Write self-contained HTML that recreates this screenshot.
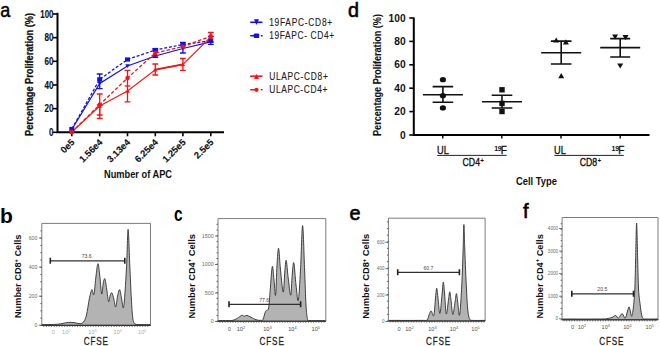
<!DOCTYPE html>
<html><head><meta charset="utf-8"><style>
html,body{margin:0;padding:0;background:#fff;width:660px;height:346px;overflow:hidden}
svg{display:block}
text{font-family:"Liberation Sans",sans-serif}
</style></head><body>
<svg width="660" height="346" viewBox="0 0 660 346"><path d="M57.5,12.8 V132.3 H224" fill="none" stroke="#000" stroke-width="2"/>
<line x1="53.0" y1="132.30" x2="57.5" y2="132.30" stroke="#000" stroke-width="1.6"/>
<text x="53.5" y="136.10" font-family="Liberation Sans, sans-serif" font-weight="bold" font-size="10.6" text-anchor="end" textLength="4.5" lengthAdjust="spacingAndGlyphs" stroke="#111" stroke-width="0.15" fill="#111">0</text>
<line x1="53.0" y1="108.64" x2="57.5" y2="108.64" stroke="#000" stroke-width="1.6"/>
<text x="53.5" y="112.44" font-family="Liberation Sans, sans-serif" font-weight="bold" font-size="10.6" text-anchor="end" textLength="9.0" lengthAdjust="spacingAndGlyphs" stroke="#111" stroke-width="0.15" fill="#111">20</text>
<line x1="53.0" y1="84.98" x2="57.5" y2="84.98" stroke="#000" stroke-width="1.6"/>
<text x="53.5" y="88.78" font-family="Liberation Sans, sans-serif" font-weight="bold" font-size="10.6" text-anchor="end" textLength="9.0" lengthAdjust="spacingAndGlyphs" stroke="#111" stroke-width="0.15" fill="#111">40</text>
<line x1="53.0" y1="61.32" x2="57.5" y2="61.32" stroke="#000" stroke-width="1.6"/>
<text x="53.5" y="65.12" font-family="Liberation Sans, sans-serif" font-weight="bold" font-size="10.6" text-anchor="end" textLength="9.0" lengthAdjust="spacingAndGlyphs" stroke="#111" stroke-width="0.15" fill="#111">60</text>
<line x1="53.0" y1="37.66" x2="57.5" y2="37.66" stroke="#000" stroke-width="1.6"/>
<text x="53.5" y="41.46" font-family="Liberation Sans, sans-serif" font-weight="bold" font-size="10.6" text-anchor="end" textLength="9.0" lengthAdjust="spacingAndGlyphs" stroke="#111" stroke-width="0.15" fill="#111">80</text>
<line x1="53.0" y1="14.00" x2="57.5" y2="14.00" stroke="#000" stroke-width="1.6"/>
<text x="53.5" y="17.80" font-family="Liberation Sans, sans-serif" font-weight="bold" font-size="10.6" text-anchor="end" textLength="13.2" lengthAdjust="spacingAndGlyphs" stroke="#111" stroke-width="0.15" fill="#111">100</text>
<line x1="71.8" y1="132.3" x2="71.8" y2="136.3" stroke="#000" stroke-width="1.6"/>
<line x1="99.7" y1="132.3" x2="99.7" y2="136.3" stroke="#000" stroke-width="1.6"/>
<line x1="127.5" y1="132.3" x2="127.5" y2="136.3" stroke="#000" stroke-width="1.6"/>
<line x1="155.3" y1="132.3" x2="155.3" y2="136.3" stroke="#000" stroke-width="1.6"/>
<line x1="182.9" y1="132.3" x2="182.9" y2="136.3" stroke="#000" stroke-width="1.6"/>
<line x1="210.8" y1="132.3" x2="210.8" y2="136.3" stroke="#000" stroke-width="1.6"/>
<text transform="translate(75.2,142.9) rotate(-45)" font-family="Liberation Sans, sans-serif" font-weight="bold" font-size="9.3" text-anchor="end" stroke="#111" stroke-width="0.12" fill="#111">0e5</text>
<text transform="translate(103.10000000000001,142.9) rotate(-45)" font-family="Liberation Sans, sans-serif" font-weight="bold" font-size="9.3" text-anchor="end" stroke="#111" stroke-width="0.12" fill="#111">1.56e4</text>
<text transform="translate(130.9,142.9) rotate(-45)" font-family="Liberation Sans, sans-serif" font-weight="bold" font-size="9.3" text-anchor="end" stroke="#111" stroke-width="0.12" fill="#111">3.13e4</text>
<text transform="translate(158.70000000000002,142.9) rotate(-45)" font-family="Liberation Sans, sans-serif" font-weight="bold" font-size="9.3" text-anchor="end" stroke="#111" stroke-width="0.12" fill="#111">6.25e4</text>
<text transform="translate(186.3,142.9) rotate(-45)" font-family="Liberation Sans, sans-serif" font-weight="bold" font-size="9.3" text-anchor="end" stroke="#111" stroke-width="0.12" fill="#111">1.25e5</text>
<text transform="translate(214.20000000000002,142.9) rotate(-45)" font-family="Liberation Sans, sans-serif" font-weight="bold" font-size="9.3" text-anchor="end" stroke="#111" stroke-width="0.12" fill="#111">2.5e5</text>
<text x="138" y="177.8" font-family="Liberation Sans, sans-serif" font-weight="bold" font-size="10.4" text-anchor="middle" textLength="68" lengthAdjust="spacingAndGlyphs" fill="#111">Number of APC</text>
<text transform="translate(33.4,74.5) rotate(-90)" font-family="Liberation Sans, sans-serif" font-weight="bold" font-size="11" stroke="#111" stroke-width="0.3" text-anchor="middle" textLength="123" lengthAdjust="spacingAndGlyphs" fill="#111">Percentage Proliferation (%)</text>
<text x="0.3" y="17" font-family="Liberation Sans, sans-serif" font-size="21" textLength="10" lengthAdjust="spacingAndGlyphs" stroke="#000" stroke-width="0.5" fill="#000">a</text>
<polyline points="71.8,129.5 99.7,83.4 127.5,66.0 155.3,56.0 182.9,48.5 210.8,41.8" fill="none" stroke="#1010ee" stroke-width="1.25"/>
<polyline points="71.8,129 99.7,79.3 127.5,59.5 155.3,50.0 182.9,44.5 210.8,40.8" fill="none" stroke="#1010ee" stroke-width="1.25" stroke-dasharray="3,1.8"/>
<polyline points="71.8,132 99.7,106 127.5,91.0 155.3,69.7 182.9,64.4 210.8,36.8" fill="none" stroke="#ff1010" stroke-width="1.1"/>
<line x1="155.3" y1="69.7" x2="182.9" y2="64.4" stroke="#ff1010" stroke-width="1.7"/>
<polyline points="71.8,132 99.7,104.7 127.5,78.0 155.3,53.0 182.9,46.6 210.8,36.2" fill="none" stroke="#ff1010" stroke-width="1.3" stroke-dasharray="3.5,2"/>
<path d="M96.8,94.0H102.60000000000001M99.7,94.0V118.5M96.8,118.5H102.60000000000001" stroke="#ff1010" stroke-width="1.3" fill="none"/>
<path d="M96.8,105H102.60000000000001M99.7,105V115.0M96.8,115.0H102.60000000000001" stroke="#ff1010" stroke-width="1.3" fill="none"/>
<path d="M124.6,70.4H130.4M127.5,70.4V101.9M124.6,101.9H130.4" stroke="#ff1010" stroke-width="1.3" fill="none"/>
<path d="M124.6,86H130.4" stroke="#ff1010" stroke-width="1.3"/>
<path d="M152.4,64H158.20000000000002M155.3,64V75M152.4,75H158.20000000000002" stroke="#ff1010" stroke-width="1.3" fill="none"/>
<path d="M152.4,50H158.20000000000002M155.3,50V56M152.4,56H158.20000000000002" stroke="#ff1010" stroke-width="1.3" fill="none"/>
<path d="M180.0,58.5H185.8M182.9,58.5V70.3M180.0,70.3H185.8" stroke="#ff1010" stroke-width="1.3" fill="none"/>
<path d="M207.9,32.5H213.70000000000002M210.8,32.5V42M207.9,42H213.70000000000002" stroke="#ff1010" stroke-width="1.3" fill="none"/>
<path d="M96.8,74H102.60000000000001M99.7,74V88.6M96.8,88.6H102.60000000000001" stroke="#1010ee" stroke-width="1.3" fill="none"/>
<path d="M152.4,48.7H158.20000000000002M155.3,48.7V57.4M152.4,57.4H158.20000000000002" stroke="#1010ee" stroke-width="1.3" fill="none"/>
<path d="M180.0,42.4H185.8M182.9,42.4V53M180.0,53H185.8" stroke="#1010ee" stroke-width="1.3" fill="none"/>
<path d="M207.9,36.5H213.70000000000002M210.8,36.5V44.4M207.9,44.4H213.70000000000002" stroke="#1010ee" stroke-width="1.3" fill="none"/>
<path d="M69.5,127.66H74.1L71.8,131.57Z" fill="#1010ee"/>
<path d="M97.4,81.56H102.0L99.7,85.47Z" fill="#1010ee"/>
<path d="M125.2,64.16H129.8L127.5,68.07Z" fill="#1010ee"/>
<path d="M153.0,54.16H157.60000000000002L155.3,58.07Z" fill="#1010ee"/>
<path d="M180.6,46.66H185.20000000000002L182.9,50.57Z" fill="#1010ee"/>
<path d="M208.5,39.959999999999994H213.10000000000002L210.8,43.87Z" fill="#1010ee"/>
<rect x="69.3" y="126.9" width="5" height="4.2" fill="#1010ee"/>
<rect x="97.2" y="77.2" width="5" height="4.2" fill="#1010ee"/>
<rect x="125.0" y="57.4" width="5" height="4.2" fill="#1010ee"/>
<rect x="152.8" y="47.9" width="5" height="4.2" fill="#1010ee"/>
<rect x="180.4" y="42.4" width="5" height="4.2" fill="#1010ee"/>
<rect x="208.3" y="38.699999999999996" width="5" height="4.2" fill="#1010ee"/>
<path d="M69.5,133.84H74.1L71.8,129.93Z" fill="#ff1010"/>
<path d="M97.4,107.84H102.0L99.7,103.93Z" fill="#ff1010"/>
<path d="M125.2,92.84H129.8L127.5,88.93Z" fill="#ff1010"/>
<path d="M153.0,71.54H157.60000000000002L155.3,67.63000000000001Z" fill="#ff1010"/>
<path d="M180.6,66.24000000000001H185.20000000000002L182.9,62.330000000000005Z" fill="#ff1010"/>
<path d="M208.5,38.64H213.10000000000002L210.8,34.73Z" fill="#ff1010"/>
<circle cx="71.8" cy="132" r="2.2" fill="#ff1010"/>
<circle cx="99.7" cy="104.7" r="2.2" fill="#ff1010"/>
<circle cx="127.5" cy="78.0" r="2.2" fill="#ff1010"/>
<circle cx="155.3" cy="53.0" r="2.2" fill="#ff1010"/>
<circle cx="182.9" cy="46.6" r="2.2" fill="#ff1010"/>
<circle cx="210.8" cy="36.2" r="2.2" fill="#ff1010"/>
<path d="M250.2,22.3H262.5" stroke="#1010ee" stroke-width="1.6"/>
<path d="M254.0,19.3H259.0L256.5,24.900000000000002Z" fill="#1010ee"/>
<text transform="translate(269.2,25.6) scale(0.84,1)" font-family="Liberation Sans, sans-serif" font-size="10" textLength="75.00" lengthAdjust="spacing" stroke="#222" stroke-width="0.12" fill="#222">19FAPC-CD8+</text>
<path d="M250.2,35.7H255M260.9,35.7H262.6" stroke="#1010ee" stroke-width="1.6"/>
<rect x="253.8" y="33.400000000000006" width="5.4" height="4.6" rx="0.8" fill="#1010ee"/>
<text transform="translate(269.2,39.0) scale(0.84,1)" font-family="Liberation Sans, sans-serif" font-size="10" textLength="77.38" lengthAdjust="spacing" stroke="#222" stroke-width="0.12" fill="#222">19FAPC- CD4+</text>
<path d="M250.2,76.2H262.5" stroke="#ff1010" stroke-width="1.6"/>
<path d="M254.0,78.9H259.0L256.5,73.9Z" fill="#ff1010"/>
<text transform="translate(269.2,79.5) scale(0.84,1)" font-family="Liberation Sans, sans-serif" font-size="10" textLength="69.76" lengthAdjust="spacing" stroke="#222" stroke-width="0.12" fill="#222">ULAPC-CD8+</text>
<path d="M250.2,89.8H255M260.9,89.8H262.6" stroke="#ff1010" stroke-width="1.6"/>
<circle cx="256.5" cy="89.8" r="2.1" fill="#ff1010"/>
<text transform="translate(269.2,93.1) scale(0.84,1)" font-family="Liberation Sans, sans-serif" font-size="10" textLength="69.29" lengthAdjust="spacing" stroke="#222" stroke-width="0.12" fill="#222">ULAPC-CD4+</text>
<path d="M413.8,17.5 V135.0 H649.5" fill="none" stroke="#000" stroke-width="2"/>
<line x1="409.3" y1="135.00" x2="413.8" y2="135.00" stroke="#000" stroke-width="1.6"/>
<text x="405.6" y="138.60" font-family="Liberation Sans, sans-serif" font-weight="bold" font-size="10.2" text-anchor="end" fill="#111">0</text>
<line x1="409.3" y1="111.60" x2="413.8" y2="111.60" stroke="#000" stroke-width="1.6"/>
<text x="405.6" y="115.20" font-family="Liberation Sans, sans-serif" font-weight="bold" font-size="10.2" text-anchor="end" fill="#111">20</text>
<line x1="409.3" y1="88.20" x2="413.8" y2="88.20" stroke="#000" stroke-width="1.6"/>
<text x="405.6" y="91.80" font-family="Liberation Sans, sans-serif" font-weight="bold" font-size="10.2" text-anchor="end" fill="#111">40</text>
<line x1="409.3" y1="64.80" x2="413.8" y2="64.80" stroke="#000" stroke-width="1.6"/>
<text x="405.6" y="68.40" font-family="Liberation Sans, sans-serif" font-weight="bold" font-size="10.2" text-anchor="end" fill="#111">60</text>
<line x1="409.3" y1="41.40" x2="413.8" y2="41.40" stroke="#000" stroke-width="1.6"/>
<text x="405.6" y="45.00" font-family="Liberation Sans, sans-serif" font-weight="bold" font-size="10.2" text-anchor="end" fill="#111">80</text>
<line x1="409.3" y1="18.00" x2="413.8" y2="18.00" stroke="#000" stroke-width="1.6"/>
<text x="405.6" y="21.60" font-family="Liberation Sans, sans-serif" font-weight="bold" font-size="10.2" text-anchor="end" fill="#111">100</text>
<line x1="442.8" y1="135.0" x2="442.8" y2="138.5" stroke="#000" stroke-width="1.4"/>
<line x1="501.8" y1="135.0" x2="501.8" y2="138.5" stroke="#000" stroke-width="1.4"/>
<line x1="561.0" y1="135.0" x2="561.0" y2="138.5" stroke="#000" stroke-width="1.4"/>
<line x1="620.2" y1="135.0" x2="620.2" y2="138.5" stroke="#000" stroke-width="1.4"/>
<text transform="translate(381,75) rotate(-90)" font-family="Liberation Sans, sans-serif" font-weight="bold" font-size="10.6" text-anchor="middle" textLength="122" lengthAdjust="spacingAndGlyphs" stroke="#111" stroke-width="0.1" fill="#111">Percentage Proliferation (%)</text>
<text x="348.1" y="16.9" font-family="Liberation Sans, sans-serif" font-size="21" textLength="11" lengthAdjust="spacingAndGlyphs" stroke="#000" stroke-width="0.6" fill="#000">d</text>
<path d="M422.9,94.7H462.9M432.59999999999997,86.6H453.2M432.59999999999997,102.2H453.2M442.9,86.6V102.2" stroke="#111" stroke-width="1.6" fill="none"/>
<ellipse cx="442.9" cy="79.7" rx="3.1" ry="2.6" fill="#111"/>
<ellipse cx="442.9" cy="95.7" rx="3.1" ry="2.6" fill="#111"/>
<ellipse cx="442.9" cy="107.9" rx="3.1" ry="2.6" fill="#111"/>
<path d="M482,101.8H522M491.7,95.3H512.3M491.7,108H512.3M502,95.3V108" stroke="#111" stroke-width="1.6" fill="none"/>
<rect x="499.3" y="87.1" width="5.4" height="5.4" fill="#111"/>
<rect x="499.3" y="100.7" width="5.4" height="5.4" fill="#111"/>
<rect x="499.3" y="108.8" width="5.4" height="5.4" fill="#111"/>
<path d="M541.2,52.7H581.2M550.9000000000001,41.1H571.5M550.9000000000001,64H571.5M561.2,41.1V64" stroke="#111" stroke-width="1.6" fill="none"/>
<path d="M553.2,42.6H559.2L556.2,37.5Z" fill="#111"/>
<path d="M562.9,44.4H568.9L565.9,39.3Z" fill="#111"/>
<path d="M558.2,78.2H564.2L561.2,73.1Z" fill="#111"/>
<path d="M600.2,47.6H640.2M610.2,38.6H630.2M610.2,57H630.2M620.2,38.6V57" stroke="#111" stroke-width="1.6" fill="none"/>
<path d="M612.1,34.5H618.1L615.1,39.6Z" fill="#111"/>
<path d="M622.5,35.1H628.5L625.5,40.2Z" fill="#111"/>
<path d="M617.2,63.4H623.2L620.2,68.5Z" fill="#111"/>
<text x="437" y="154" font-family="Liberation Sans, sans-serif" font-size="10" textLength="11.8" lengthAdjust="spacingAndGlyphs" stroke="#111" stroke-width="0.3" fill="#111">UL</text>
<text x="554.1" y="154" font-family="Liberation Sans, sans-serif" font-size="10" textLength="11.8" lengthAdjust="spacingAndGlyphs" stroke="#111" stroke-width="0.3" fill="#111">UL</text>
<text x="500.8" y="154" font-family="Liberation Sans, sans-serif" font-size="10" stroke="#111" stroke-width="0.3" fill="#111">F</text>
<text x="501.40000000000003" y="150.9" font-family="Liberation Sans, sans-serif" font-size="7" font-weight="bold" text-anchor="end" letter-spacing="-0.3" fill="#111">19</text>
<text x="618.2" y="154" font-family="Liberation Sans, sans-serif" font-size="10" stroke="#111" stroke-width="0.3" fill="#111">F</text>
<text x="618.8" y="150.9" font-family="Liberation Sans, sans-serif" font-size="7" font-weight="bold" text-anchor="end" letter-spacing="-0.3" fill="#111">19</text>
<path d="M437.2,155.4H506.6M554.3,155.4H623.8" stroke="#222" stroke-width="1"/>
<text x="462.6" y="166.4" font-family="Liberation Sans, sans-serif" font-size="10.4" textLength="17.4" lengthAdjust="spacingAndGlyphs" stroke="#111" stroke-width="0.35" fill="#111">CD4</text>
<text x="480.20000000000005" y="163" font-family="Liberation Sans, sans-serif" font-size="6.4" font-weight="bold" fill="#111">+</text>
<text x="579.8" y="166.4" font-family="Liberation Sans, sans-serif" font-size="10.4" textLength="17.4" lengthAdjust="spacingAndGlyphs" stroke="#111" stroke-width="0.35" fill="#111">CD8</text>
<text x="597.4" y="163" font-family="Liberation Sans, sans-serif" font-size="6.4" font-weight="bold" fill="#111">+</text>
<text x="536.4" y="185.2" font-family="Liberation Sans, sans-serif" font-weight="bold" font-size="10.8" text-anchor="middle" textLength="41" lengthAdjust="spacingAndGlyphs" fill="#111">Cell Type</text>
<path d="M42.00,324.60 C44.17,324.57 51.67,324.57 55.00,324.40 C58.33,324.23 59.83,323.93 62.00,323.60 C64.17,323.27 66.00,322.57 68.00,322.40 C70.00,322.23 72.00,322.38 74.00,322.60 C76.00,322.82 78.42,323.80 80.00,323.70 C81.58,323.60 82.42,323.45 83.50,322.00 C84.58,320.55 85.53,318.83 86.50,315.00 C87.47,311.17 88.40,303.22 89.30,299.00 C90.20,294.78 91.13,290.45 91.90,289.70 C92.67,288.95 93.22,296.78 93.90,294.50 C94.58,292.22 95.32,281.13 96.00,276.00 C96.68,270.87 97.35,263.53 98.00,263.70 C98.65,263.87 99.28,271.95 99.90,277.00 C100.52,282.05 101.13,293.00 101.70,294.00 C102.27,295.00 102.77,285.53 103.30,283.00 C103.83,280.47 104.33,277.80 104.90,278.80 C105.47,279.80 106.08,285.20 106.70,289.00 C107.32,292.80 108.00,300.60 108.60,301.60 C109.20,302.60 109.73,296.45 110.30,295.00 C110.87,293.55 111.42,292.23 112.00,292.90 C112.58,293.57 113.18,296.65 113.80,299.00 C114.42,301.35 115.07,307.50 115.70,307.00 C116.33,306.50 116.95,298.88 117.60,296.00 C118.25,293.12 118.95,289.37 119.60,289.70 C120.25,290.03 120.88,294.95 121.50,298.00 C122.12,301.05 122.75,308.50 123.30,308.00 C123.85,307.50 124.25,302.03 124.80,295.00 C125.35,287.97 126.05,276.75 126.60,265.80 C127.15,254.85 127.57,229.30 128.10,229.30 C128.63,229.30 129.27,254.35 129.80,265.80 C130.33,277.25 130.80,289.30 131.30,298.00 C131.80,306.70 132.18,313.70 132.80,318.00 C133.42,322.30 133.47,322.70 135.00,323.80 C136.53,324.90 139.50,324.47 142.00,324.60 C144.50,324.73 148.67,324.60 150.00,324.60 L150.5,325.4 L41.8,325.4 Z" fill="#b3b3b3" stroke="#303030" stroke-width="0.9"/>
<path d="M41.8,325.4V223.4H150.5V325.4" fill="none" stroke="#7c7c7c" stroke-width="1"/>
<path d="M41.8,325.4H150.5" fill="none" stroke="#333" stroke-width="1.1"/>
<line x1="38.8" y1="325.2" x2="41.8" y2="325.2" stroke="#555" stroke-width="0.8"/>
<text x="37.4" y="327.02" font-family="Liberation Sans, sans-serif" font-size="5.2" text-anchor="end" fill="#6a6a6a">0</text>
<line x1="38.8" y1="296.2" x2="41.8" y2="296.2" stroke="#555" stroke-width="0.8"/>
<text x="37.4" y="298.02" font-family="Liberation Sans, sans-serif" font-size="5.2" text-anchor="end" fill="#6a6a6a">200</text>
<line x1="38.8" y1="267.1" x2="41.8" y2="267.1" stroke="#555" stroke-width="0.8"/>
<text x="37.4" y="268.92" font-family="Liberation Sans, sans-serif" font-size="5.2" text-anchor="end" fill="#6a6a6a">400</text>
<line x1="38.8" y1="238" x2="41.8" y2="238" stroke="#555" stroke-width="0.8"/>
<text x="37.4" y="239.82" font-family="Liberation Sans, sans-serif" font-size="5.2" text-anchor="end" fill="#6a6a6a">600</text>
<line x1="40.3" y1="325.40" x2="41.8" y2="325.40" stroke="#444" stroke-width="0.8"/>
<line x1="40.3" y1="318.13" x2="41.8" y2="318.13" stroke="#444" stroke-width="0.8"/>
<line x1="40.3" y1="310.86" x2="41.8" y2="310.86" stroke="#444" stroke-width="0.8"/>
<line x1="40.3" y1="303.59" x2="41.8" y2="303.59" stroke="#444" stroke-width="0.8"/>
<line x1="40.3" y1="296.32" x2="41.8" y2="296.32" stroke="#444" stroke-width="0.8"/>
<line x1="40.3" y1="289.05" x2="41.8" y2="289.05" stroke="#444" stroke-width="0.8"/>
<line x1="40.3" y1="281.78" x2="41.8" y2="281.78" stroke="#444" stroke-width="0.8"/>
<line x1="40.3" y1="274.51" x2="41.8" y2="274.51" stroke="#444" stroke-width="0.8"/>
<line x1="40.3" y1="267.24" x2="41.8" y2="267.24" stroke="#444" stroke-width="0.8"/>
<line x1="40.3" y1="259.97" x2="41.8" y2="259.97" stroke="#444" stroke-width="0.8"/>
<line x1="40.3" y1="252.70" x2="41.8" y2="252.70" stroke="#444" stroke-width="0.8"/>
<line x1="40.3" y1="245.43" x2="41.8" y2="245.43" stroke="#444" stroke-width="0.8"/>
<line x1="40.3" y1="238.16" x2="41.8" y2="238.16" stroke="#444" stroke-width="0.8"/>
<line x1="40.3" y1="230.89" x2="41.8" y2="230.89" stroke="#444" stroke-width="0.8"/>
<line x1="43.80" y1="325.4" x2="43.80" y2="327.0" stroke="#444" stroke-width="0.7"/>
<line x1="46.40" y1="325.4" x2="46.40" y2="327.0" stroke="#444" stroke-width="0.7"/>
<line x1="49.00" y1="325.4" x2="49.00" y2="327.0" stroke="#444" stroke-width="0.7"/>
<line x1="51.60" y1="325.4" x2="51.60" y2="327.0" stroke="#444" stroke-width="0.7"/>
<line x1="54.20" y1="325.4" x2="54.20" y2="327.0" stroke="#444" stroke-width="0.7"/>
<line x1="56.80" y1="325.4" x2="56.80" y2="327.0" stroke="#444" stroke-width="0.7"/>
<line x1="59.40" y1="325.4" x2="59.40" y2="327.0" stroke="#444" stroke-width="0.7"/>
<line x1="62.00" y1="325.4" x2="62.00" y2="327.0" stroke="#444" stroke-width="0.7"/>
<line x1="64.60" y1="325.4" x2="64.60" y2="327.0" stroke="#444" stroke-width="0.7"/>
<line x1="67.20" y1="325.4" x2="67.20" y2="327.0" stroke="#444" stroke-width="0.7"/>
<line x1="69.80" y1="325.4" x2="69.80" y2="327.0" stroke="#444" stroke-width="0.7"/>
<line x1="72.40" y1="325.4" x2="72.40" y2="327.0" stroke="#444" stroke-width="0.7"/>
<line x1="75.00" y1="325.4" x2="75.00" y2="327.0" stroke="#444" stroke-width="0.7"/>
<line x1="77.60" y1="325.4" x2="77.60" y2="327.0" stroke="#444" stroke-width="0.7"/>
<line x1="80.20" y1="325.4" x2="80.20" y2="327.0" stroke="#444" stroke-width="0.7"/>
<line x1="82.80" y1="325.4" x2="82.80" y2="327.0" stroke="#444" stroke-width="0.7"/>
<line x1="85.40" y1="325.4" x2="85.40" y2="327.0" stroke="#444" stroke-width="0.7"/>
<line x1="88.00" y1="325.4" x2="88.00" y2="327.0" stroke="#444" stroke-width="0.7"/>
<line x1="90.60" y1="325.4" x2="90.60" y2="327.0" stroke="#444" stroke-width="0.7"/>
<line x1="93.20" y1="325.4" x2="93.20" y2="327.0" stroke="#444" stroke-width="0.7"/>
<line x1="95.80" y1="325.4" x2="95.80" y2="327.0" stroke="#444" stroke-width="0.7"/>
<line x1="98.40" y1="325.4" x2="98.40" y2="327.0" stroke="#444" stroke-width="0.7"/>
<line x1="101.00" y1="325.4" x2="101.00" y2="327.0" stroke="#444" stroke-width="0.7"/>
<line x1="103.60" y1="325.4" x2="103.60" y2="327.0" stroke="#444" stroke-width="0.7"/>
<line x1="106.20" y1="325.4" x2="106.20" y2="327.0" stroke="#444" stroke-width="0.7"/>
<line x1="108.80" y1="325.4" x2="108.80" y2="327.0" stroke="#444" stroke-width="0.7"/>
<line x1="111.40" y1="325.4" x2="111.40" y2="327.0" stroke="#444" stroke-width="0.7"/>
<line x1="114.00" y1="325.4" x2="114.00" y2="327.0" stroke="#444" stroke-width="0.7"/>
<line x1="116.60" y1="325.4" x2="116.60" y2="327.0" stroke="#444" stroke-width="0.7"/>
<line x1="119.20" y1="325.4" x2="119.20" y2="327.0" stroke="#444" stroke-width="0.7"/>
<line x1="121.80" y1="325.4" x2="121.80" y2="327.0" stroke="#444" stroke-width="0.7"/>
<line x1="124.40" y1="325.4" x2="124.40" y2="327.0" stroke="#444" stroke-width="0.7"/>
<line x1="127.00" y1="325.4" x2="127.00" y2="327.0" stroke="#444" stroke-width="0.7"/>
<line x1="129.60" y1="325.4" x2="129.60" y2="327.0" stroke="#444" stroke-width="0.7"/>
<line x1="132.20" y1="325.4" x2="132.20" y2="327.0" stroke="#444" stroke-width="0.7"/>
<line x1="134.80" y1="325.4" x2="134.80" y2="327.0" stroke="#444" stroke-width="0.7"/>
<line x1="137.40" y1="325.4" x2="137.40" y2="327.0" stroke="#444" stroke-width="0.7"/>
<line x1="140.00" y1="325.4" x2="140.00" y2="327.0" stroke="#444" stroke-width="0.7"/>
<line x1="142.60" y1="325.4" x2="142.60" y2="327.0" stroke="#444" stroke-width="0.7"/>
<line x1="145.20" y1="325.4" x2="145.20" y2="327.0" stroke="#444" stroke-width="0.7"/>
<line x1="147.80" y1="325.4" x2="147.80" y2="327.0" stroke="#444" stroke-width="0.7"/>
<path d="M50.3,260.8H124.8" stroke="#303030" stroke-width="1.2" fill="none"/>
<path d="M50.3,257.8V263.8M124.8,257.8V263.8" stroke="#222" stroke-width="1.6" fill="none"/>
<text x="86.7" y="258.2" font-family="Liberation Sans, sans-serif" font-size="5.1" text-anchor="middle" fill="#444">73.6</text>
<text x="53.2" y="333.5" font-family="Liberation Sans, sans-serif" font-size="5.6" text-anchor="middle" fill="#aaa">0</text>
<text x="66.2" y="333.5" font-family="Liberation Sans, sans-serif" font-size="5.6" text-anchor="middle" fill="#aaa">10<tspan font-size="3.8" dy="-2">2</tspan></text>
<text x="92.5" y="333.5" font-family="Liberation Sans, sans-serif" font-size="5.6" text-anchor="middle" fill="#aaa">10<tspan font-size="3.8" dy="-2">3</tspan></text>
<text x="117.7" y="333.5" font-family="Liberation Sans, sans-serif" font-size="5.6" text-anchor="middle" fill="#aaa">10<tspan font-size="3.8" dy="-2">4</tspan></text>
<text x="142.2" y="333.5" font-family="Liberation Sans, sans-serif" font-size="5.6" text-anchor="middle" fill="#aaa">10<tspan font-size="3.8" dy="-2">5</tspan></text>
<text transform="translate(96.3,344.9) scale(0.8,1)" font-family="Liberation Sans, sans-serif" font-size="10.2" text-anchor="middle" letter-spacing="1.1" stroke="#1a1a2a" stroke-width="0.25" fill="#1a1a2a">CFSE</text>
<text transform="translate(20.9,276.3) rotate(-90)" font-family="Liberation Sans, sans-serif" font-weight="bold" font-size="9" text-anchor="middle" textLength="83.5" lengthAdjust="spacingAndGlyphs" fill="#111">Number CD8<tspan font-size="5.5" dy="-3.4">+</tspan><tspan dy="3.4"> Cells</tspan></text>
<text x="0.0" y="223" font-family="Liberation Sans, sans-serif" font-weight="bold" font-size="21" fill="#000">b</text>
<path d="M218.00,320.60 C219.67,320.60 225.50,320.65 228.00,320.60 C230.50,320.55 231.42,320.70 233.00,320.30 C234.58,319.90 236.03,319.03 237.50,318.20 C238.97,317.37 240.67,315.63 241.80,315.30 C242.93,314.97 243.43,316.18 244.30,316.20 C245.17,316.22 245.88,315.22 247.00,315.40 C248.12,315.58 249.50,316.58 251.00,317.30 C252.50,318.02 254.37,319.18 256.00,319.70 C257.63,320.22 259.63,320.43 260.80,320.40 C261.97,320.37 262.22,320.98 263.00,319.50 C263.78,318.02 264.57,313.42 265.50,311.50 C266.43,309.58 267.82,311.58 268.60,308.00 C269.38,304.42 269.58,296.92 270.20,290.00 C270.82,283.08 271.67,268.17 272.30,266.50 C272.93,264.83 273.45,275.22 274.00,280.00 C274.55,284.78 275.10,297.70 275.60,295.20 C276.10,292.70 276.50,272.82 277.00,265.00 C277.50,257.18 278.02,247.47 278.60,248.30 C279.18,249.13 279.73,262.70 280.50,270.00 C281.27,277.30 282.48,291.77 283.20,292.10 C283.92,292.43 284.30,277.28 284.80,272.00 C285.30,266.72 285.63,259.40 286.20,260.40 C286.77,261.40 287.45,272.20 288.20,278.00 C288.95,283.80 290.03,295.70 290.70,295.20 C291.37,294.70 291.68,280.40 292.20,275.00 C292.72,269.60 293.17,261.13 293.80,262.80 C294.43,264.47 295.25,278.72 296.00,285.00 C296.75,291.28 297.55,303.00 298.30,300.50 C299.05,298.00 299.78,282.48 300.50,270.00 C301.22,257.52 301.92,225.60 302.60,225.60 C303.28,225.60 304.03,256.77 304.60,270.00 C305.17,283.23 305.50,296.75 306.00,305.00 C306.50,313.25 306.93,316.90 307.60,319.50 C308.27,322.10 306.97,320.42 310.00,320.60 C313.03,320.78 323.17,320.60 325.80,320.60 L325.8,321.2 L218,321.2 Z" fill="#b3b3b3" stroke="#303030" stroke-width="0.9"/>
<path d="M218,321.2V218.6H325.8V321.2" fill="none" stroke="#7c7c7c" stroke-width="1"/>
<path d="M218,321.2H325.8" fill="none" stroke="#333" stroke-width="1.1"/>
<line x1="215" y1="321.5" x2="218" y2="321.5" stroke="#555" stroke-width="0.8"/>
<text x="213.8" y="323.39" font-family="Liberation Sans, sans-serif" font-size="5.4" text-anchor="end" fill="#6a6a6a">0</text>
<line x1="215" y1="293" x2="218" y2="293" stroke="#555" stroke-width="0.8"/>
<text x="213.8" y="294.89" font-family="Liberation Sans, sans-serif" font-size="5.4" text-anchor="end" fill="#6a6a6a">500</text>
<line x1="215" y1="264.5" x2="218" y2="264.5" stroke="#555" stroke-width="0.8"/>
<text x="213.8" y="266.39" font-family="Liberation Sans, sans-serif" font-size="5.4" text-anchor="end" fill="#6a6a6a">1000</text>
<line x1="215" y1="236" x2="218" y2="236" stroke="#555" stroke-width="0.8"/>
<text x="213.8" y="237.89" font-family="Liberation Sans, sans-serif" font-size="5.4" text-anchor="end" fill="#6a6a6a">1500</text>
<line x1="216.5" y1="321.20" x2="218" y2="321.20" stroke="#444" stroke-width="0.8"/>
<line x1="216.5" y1="315.50" x2="218" y2="315.50" stroke="#444" stroke-width="0.8"/>
<line x1="216.5" y1="309.80" x2="218" y2="309.80" stroke="#444" stroke-width="0.8"/>
<line x1="216.5" y1="304.10" x2="218" y2="304.10" stroke="#444" stroke-width="0.8"/>
<line x1="216.5" y1="298.40" x2="218" y2="298.40" stroke="#444" stroke-width="0.8"/>
<line x1="216.5" y1="292.70" x2="218" y2="292.70" stroke="#444" stroke-width="0.8"/>
<line x1="216.5" y1="287.00" x2="218" y2="287.00" stroke="#444" stroke-width="0.8"/>
<line x1="216.5" y1="281.30" x2="218" y2="281.30" stroke="#444" stroke-width="0.8"/>
<line x1="216.5" y1="275.60" x2="218" y2="275.60" stroke="#444" stroke-width="0.8"/>
<line x1="216.5" y1="269.90" x2="218" y2="269.90" stroke="#444" stroke-width="0.8"/>
<line x1="216.5" y1="264.20" x2="218" y2="264.20" stroke="#444" stroke-width="0.8"/>
<line x1="216.5" y1="258.50" x2="218" y2="258.50" stroke="#444" stroke-width="0.8"/>
<line x1="216.5" y1="252.80" x2="218" y2="252.80" stroke="#444" stroke-width="0.8"/>
<line x1="216.5" y1="247.10" x2="218" y2="247.10" stroke="#444" stroke-width="0.8"/>
<line x1="216.5" y1="241.40" x2="218" y2="241.40" stroke="#444" stroke-width="0.8"/>
<line x1="216.5" y1="235.70" x2="218" y2="235.70" stroke="#444" stroke-width="0.8"/>
<line x1="216.5" y1="230.00" x2="218" y2="230.00" stroke="#444" stroke-width="0.8"/>
<line x1="216.5" y1="224.30" x2="218" y2="224.30" stroke="#444" stroke-width="0.8"/>
<line x1="220.00" y1="321.2" x2="220.00" y2="322.8" stroke="#444" stroke-width="0.7"/>
<line x1="222.60" y1="321.2" x2="222.60" y2="322.8" stroke="#444" stroke-width="0.7"/>
<line x1="225.20" y1="321.2" x2="225.20" y2="322.8" stroke="#444" stroke-width="0.7"/>
<line x1="227.80" y1="321.2" x2="227.80" y2="322.8" stroke="#444" stroke-width="0.7"/>
<line x1="230.40" y1="321.2" x2="230.40" y2="322.8" stroke="#444" stroke-width="0.7"/>
<line x1="233.00" y1="321.2" x2="233.00" y2="322.8" stroke="#444" stroke-width="0.7"/>
<line x1="235.60" y1="321.2" x2="235.60" y2="322.8" stroke="#444" stroke-width="0.7"/>
<line x1="238.20" y1="321.2" x2="238.20" y2="322.8" stroke="#444" stroke-width="0.7"/>
<line x1="240.80" y1="321.2" x2="240.80" y2="322.8" stroke="#444" stroke-width="0.7"/>
<line x1="243.40" y1="321.2" x2="243.40" y2="322.8" stroke="#444" stroke-width="0.7"/>
<line x1="246.00" y1="321.2" x2="246.00" y2="322.8" stroke="#444" stroke-width="0.7"/>
<line x1="248.60" y1="321.2" x2="248.60" y2="322.8" stroke="#444" stroke-width="0.7"/>
<line x1="251.20" y1="321.2" x2="251.20" y2="322.8" stroke="#444" stroke-width="0.7"/>
<line x1="253.80" y1="321.2" x2="253.80" y2="322.8" stroke="#444" stroke-width="0.7"/>
<line x1="256.40" y1="321.2" x2="256.40" y2="322.8" stroke="#444" stroke-width="0.7"/>
<line x1="259.00" y1="321.2" x2="259.00" y2="322.8" stroke="#444" stroke-width="0.7"/>
<line x1="261.60" y1="321.2" x2="261.60" y2="322.8" stroke="#444" stroke-width="0.7"/>
<line x1="264.20" y1="321.2" x2="264.20" y2="322.8" stroke="#444" stroke-width="0.7"/>
<line x1="266.80" y1="321.2" x2="266.80" y2="322.8" stroke="#444" stroke-width="0.7"/>
<line x1="269.40" y1="321.2" x2="269.40" y2="322.8" stroke="#444" stroke-width="0.7"/>
<line x1="272.00" y1="321.2" x2="272.00" y2="322.8" stroke="#444" stroke-width="0.7"/>
<line x1="274.60" y1="321.2" x2="274.60" y2="322.8" stroke="#444" stroke-width="0.7"/>
<line x1="277.20" y1="321.2" x2="277.20" y2="322.8" stroke="#444" stroke-width="0.7"/>
<line x1="279.80" y1="321.2" x2="279.80" y2="322.8" stroke="#444" stroke-width="0.7"/>
<line x1="282.40" y1="321.2" x2="282.40" y2="322.8" stroke="#444" stroke-width="0.7"/>
<line x1="285.00" y1="321.2" x2="285.00" y2="322.8" stroke="#444" stroke-width="0.7"/>
<line x1="287.60" y1="321.2" x2="287.60" y2="322.8" stroke="#444" stroke-width="0.7"/>
<line x1="290.20" y1="321.2" x2="290.20" y2="322.8" stroke="#444" stroke-width="0.7"/>
<line x1="292.80" y1="321.2" x2="292.80" y2="322.8" stroke="#444" stroke-width="0.7"/>
<line x1="295.40" y1="321.2" x2="295.40" y2="322.8" stroke="#444" stroke-width="0.7"/>
<line x1="298.00" y1="321.2" x2="298.00" y2="322.8" stroke="#444" stroke-width="0.7"/>
<line x1="300.60" y1="321.2" x2="300.60" y2="322.8" stroke="#444" stroke-width="0.7"/>
<line x1="303.20" y1="321.2" x2="303.20" y2="322.8" stroke="#444" stroke-width="0.7"/>
<line x1="305.80" y1="321.2" x2="305.80" y2="322.8" stroke="#444" stroke-width="0.7"/>
<line x1="308.40" y1="321.2" x2="308.40" y2="322.8" stroke="#444" stroke-width="0.7"/>
<line x1="311.00" y1="321.2" x2="311.00" y2="322.8" stroke="#444" stroke-width="0.7"/>
<line x1="313.60" y1="321.2" x2="313.60" y2="322.8" stroke="#444" stroke-width="0.7"/>
<line x1="316.20" y1="321.2" x2="316.20" y2="322.8" stroke="#444" stroke-width="0.7"/>
<line x1="318.80" y1="321.2" x2="318.80" y2="322.8" stroke="#444" stroke-width="0.7"/>
<line x1="321.40" y1="321.2" x2="321.40" y2="322.8" stroke="#444" stroke-width="0.7"/>
<line x1="324.00" y1="321.2" x2="324.00" y2="322.8" stroke="#444" stroke-width="0.7"/>
<path d="M229,304.3H300.6" stroke="#303030" stroke-width="1.2" fill="none"/>
<path d="M229,301.3V307.3M300.6,301.3V307.3" stroke="#222" stroke-width="1.6" fill="none"/>
<text x="264.2" y="301.7" font-family="Liberation Sans, sans-serif" font-size="5.1" text-anchor="middle" fill="#444">77.6</text>
<text x="229.4" y="331.2" font-family="Liberation Sans, sans-serif" font-size="5.6" text-anchor="middle" fill="#4a4a4a">0</text>
<text x="240.89999999999998" y="331.2" font-family="Liberation Sans, sans-serif" font-size="5.6" text-anchor="middle" fill="#4a4a4a">10<tspan font-size="3.8" dy="-2">2</tspan></text>
<text x="267.4" y="331.2" font-family="Liberation Sans, sans-serif" font-size="5.6" text-anchor="middle" fill="#4a4a4a">10<tspan font-size="3.8" dy="-2">3</tspan></text>
<text x="292.4" y="331.2" font-family="Liberation Sans, sans-serif" font-size="5.6" text-anchor="middle" fill="#4a4a4a">10<tspan font-size="3.8" dy="-2">4</tspan></text>
<text x="315.8" y="331.2" font-family="Liberation Sans, sans-serif" font-size="5.6" text-anchor="middle" fill="#4a4a4a">10<tspan font-size="3.8" dy="-2">5</tspan></text>
<text transform="translate(272.1,344.9) scale(0.8,1)" font-family="Liberation Sans, sans-serif" font-size="10.2" text-anchor="middle" letter-spacing="1.1" stroke="#1a1a2a" stroke-width="0.25" fill="#1a1a2a">CFSE</text>
<text transform="translate(194.5,276.3) rotate(-90)" font-family="Liberation Sans, sans-serif" font-weight="bold" font-size="9" text-anchor="middle" textLength="84.5" lengthAdjust="spacingAndGlyphs" fill="#111">Number CD4<tspan font-size="5.5" dy="-3.4">+</tspan><tspan dy="3.4"> Cells</tspan></text>
<text x="173.9" y="220.9" font-family="Liberation Sans, sans-serif" font-weight="bold" font-size="21" textLength="8.6" lengthAdjust="spacingAndGlyphs" fill="#000">c</text>
<path d="M388.40,320.40 C393.67,320.40 413.57,320.47 420.00,320.40 C426.43,320.33 425.50,320.90 427.00,320.00 C428.50,319.10 428.30,316.52 429.00,315.00 C429.70,313.48 430.40,310.82 431.20,310.90 C432.00,310.98 433.07,317.82 433.80,315.50 C434.53,313.18 435.12,301.55 435.60,297.00 C436.08,292.45 436.32,288.20 436.70,288.20 C437.08,288.20 437.37,292.78 437.90,297.00 C438.43,301.22 439.20,314.00 439.90,313.50 C440.60,313.00 441.53,299.23 442.10,294.00 C442.67,288.77 442.88,282.10 443.30,282.10 C443.72,282.10 444.10,288.68 444.60,294.00 C445.10,299.32 445.63,313.17 446.30,314.00 C446.97,314.83 448.03,302.70 448.60,299.00 C449.17,295.30 449.32,291.80 449.70,291.80 C450.08,291.80 450.38,295.22 450.90,299.00 C451.42,302.78 452.08,314.17 452.80,314.50 C453.52,314.83 454.60,304.48 455.20,301.00 C455.80,297.52 456.00,293.60 456.40,293.60 C456.80,293.60 457.07,297.43 457.60,301.00 C458.13,304.57 458.90,317.67 459.60,315.00 C460.30,312.33 461.22,295.83 461.80,285.00 C462.38,274.17 462.75,260.08 463.10,250.00 C463.45,239.92 463.62,224.50 463.90,224.50 C464.18,224.50 464.37,239.08 464.80,250.00 C465.23,260.92 465.97,279.67 466.50,290.00 C467.03,300.33 467.42,307.08 468.00,312.00 C468.58,316.92 469.17,318.10 470.00,319.50 C470.83,320.90 470.48,320.25 473.00,320.40 C475.52,320.55 483.08,320.40 485.10,320.40 L485.1,321 L388.4,321 Z" fill="#b3b3b3" stroke="#303030" stroke-width="0.9"/>
<path d="M388.4,321V218.2H485.1V321" fill="none" stroke="#7c7c7c" stroke-width="1"/>
<path d="M388.4,321H485.1" fill="none" stroke="#333" stroke-width="1.1"/>
<line x1="385.4" y1="321.5" x2="388.4" y2="321.5" stroke="#555" stroke-width="0.8"/>
<text x="384.59999999999997" y="323.07" font-family="Liberation Sans, sans-serif" font-size="4.5" text-anchor="end" fill="#6a6a6a">0</text>
<line x1="385.4" y1="295.1" x2="388.4" y2="295.1" stroke="#555" stroke-width="0.8"/>
<text x="384.59999999999997" y="296.68" font-family="Liberation Sans, sans-serif" font-size="4.5" text-anchor="end" fill="#6a6a6a">200</text>
<line x1="385.4" y1="268.7" x2="388.4" y2="268.7" stroke="#555" stroke-width="0.8"/>
<text x="384.59999999999997" y="270.27" font-family="Liberation Sans, sans-serif" font-size="4.5" text-anchor="end" fill="#6a6a6a">400</text>
<line x1="385.4" y1="242.3" x2="388.4" y2="242.3" stroke="#555" stroke-width="0.8"/>
<text x="384.59999999999997" y="243.88" font-family="Liberation Sans, sans-serif" font-size="4.5" text-anchor="end" fill="#6a6a6a">600</text>
<line x1="386.9" y1="321.00" x2="388.4" y2="321.00" stroke="#444" stroke-width="0.8"/>
<line x1="386.9" y1="314.40" x2="388.4" y2="314.40" stroke="#444" stroke-width="0.8"/>
<line x1="386.9" y1="307.80" x2="388.4" y2="307.80" stroke="#444" stroke-width="0.8"/>
<line x1="386.9" y1="301.20" x2="388.4" y2="301.20" stroke="#444" stroke-width="0.8"/>
<line x1="386.9" y1="294.60" x2="388.4" y2="294.60" stroke="#444" stroke-width="0.8"/>
<line x1="386.9" y1="288.00" x2="388.4" y2="288.00" stroke="#444" stroke-width="0.8"/>
<line x1="386.9" y1="281.40" x2="388.4" y2="281.40" stroke="#444" stroke-width="0.8"/>
<line x1="386.9" y1="274.80" x2="388.4" y2="274.80" stroke="#444" stroke-width="0.8"/>
<line x1="386.9" y1="268.20" x2="388.4" y2="268.20" stroke="#444" stroke-width="0.8"/>
<line x1="386.9" y1="261.60" x2="388.4" y2="261.60" stroke="#444" stroke-width="0.8"/>
<line x1="386.9" y1="255.00" x2="388.4" y2="255.00" stroke="#444" stroke-width="0.8"/>
<line x1="386.9" y1="248.40" x2="388.4" y2="248.40" stroke="#444" stroke-width="0.8"/>
<line x1="386.9" y1="241.80" x2="388.4" y2="241.80" stroke="#444" stroke-width="0.8"/>
<line x1="386.9" y1="235.20" x2="388.4" y2="235.20" stroke="#444" stroke-width="0.8"/>
<line x1="386.9" y1="228.60" x2="388.4" y2="228.60" stroke="#444" stroke-width="0.8"/>
<line x1="386.9" y1="222.00" x2="388.4" y2="222.00" stroke="#444" stroke-width="0.8"/>
<line x1="390.40" y1="321" x2="390.40" y2="322.6" stroke="#444" stroke-width="0.7"/>
<line x1="393.00" y1="321" x2="393.00" y2="322.6" stroke="#444" stroke-width="0.7"/>
<line x1="395.60" y1="321" x2="395.60" y2="322.6" stroke="#444" stroke-width="0.7"/>
<line x1="398.20" y1="321" x2="398.20" y2="322.6" stroke="#444" stroke-width="0.7"/>
<line x1="400.80" y1="321" x2="400.80" y2="322.6" stroke="#444" stroke-width="0.7"/>
<line x1="403.40" y1="321" x2="403.40" y2="322.6" stroke="#444" stroke-width="0.7"/>
<line x1="406.00" y1="321" x2="406.00" y2="322.6" stroke="#444" stroke-width="0.7"/>
<line x1="408.60" y1="321" x2="408.60" y2="322.6" stroke="#444" stroke-width="0.7"/>
<line x1="411.20" y1="321" x2="411.20" y2="322.6" stroke="#444" stroke-width="0.7"/>
<line x1="413.80" y1="321" x2="413.80" y2="322.6" stroke="#444" stroke-width="0.7"/>
<line x1="416.40" y1="321" x2="416.40" y2="322.6" stroke="#444" stroke-width="0.7"/>
<line x1="419.00" y1="321" x2="419.00" y2="322.6" stroke="#444" stroke-width="0.7"/>
<line x1="421.60" y1="321" x2="421.60" y2="322.6" stroke="#444" stroke-width="0.7"/>
<line x1="424.20" y1="321" x2="424.20" y2="322.6" stroke="#444" stroke-width="0.7"/>
<line x1="426.80" y1="321" x2="426.80" y2="322.6" stroke="#444" stroke-width="0.7"/>
<line x1="429.40" y1="321" x2="429.40" y2="322.6" stroke="#444" stroke-width="0.7"/>
<line x1="432.00" y1="321" x2="432.00" y2="322.6" stroke="#444" stroke-width="0.7"/>
<line x1="434.60" y1="321" x2="434.60" y2="322.6" stroke="#444" stroke-width="0.7"/>
<line x1="437.20" y1="321" x2="437.20" y2="322.6" stroke="#444" stroke-width="0.7"/>
<line x1="439.80" y1="321" x2="439.80" y2="322.6" stroke="#444" stroke-width="0.7"/>
<line x1="442.40" y1="321" x2="442.40" y2="322.6" stroke="#444" stroke-width="0.7"/>
<line x1="445.00" y1="321" x2="445.00" y2="322.6" stroke="#444" stroke-width="0.7"/>
<line x1="447.60" y1="321" x2="447.60" y2="322.6" stroke="#444" stroke-width="0.7"/>
<line x1="450.20" y1="321" x2="450.20" y2="322.6" stroke="#444" stroke-width="0.7"/>
<line x1="452.80" y1="321" x2="452.80" y2="322.6" stroke="#444" stroke-width="0.7"/>
<line x1="455.40" y1="321" x2="455.40" y2="322.6" stroke="#444" stroke-width="0.7"/>
<line x1="458.00" y1="321" x2="458.00" y2="322.6" stroke="#444" stroke-width="0.7"/>
<line x1="460.60" y1="321" x2="460.60" y2="322.6" stroke="#444" stroke-width="0.7"/>
<line x1="463.20" y1="321" x2="463.20" y2="322.6" stroke="#444" stroke-width="0.7"/>
<line x1="465.80" y1="321" x2="465.80" y2="322.6" stroke="#444" stroke-width="0.7"/>
<line x1="468.40" y1="321" x2="468.40" y2="322.6" stroke="#444" stroke-width="0.7"/>
<line x1="471.00" y1="321" x2="471.00" y2="322.6" stroke="#444" stroke-width="0.7"/>
<line x1="473.60" y1="321" x2="473.60" y2="322.6" stroke="#444" stroke-width="0.7"/>
<line x1="476.20" y1="321" x2="476.20" y2="322.6" stroke="#444" stroke-width="0.7"/>
<line x1="478.80" y1="321" x2="478.80" y2="322.6" stroke="#444" stroke-width="0.7"/>
<line x1="481.40" y1="321" x2="481.40" y2="322.6" stroke="#444" stroke-width="0.7"/>
<line x1="484.00" y1="321" x2="484.00" y2="322.6" stroke="#444" stroke-width="0.7"/>
<path d="M397.7,272.3H459.4" stroke="#303030" stroke-width="1.2" fill="none"/>
<path d="M397.7,269.3V275.3M459.4,269.3V275.3" stroke="#222" stroke-width="1.6" fill="none"/>
<text x="428.5" y="269.7" font-family="Liberation Sans, sans-serif" font-size="5.1" text-anchor="middle" fill="#444">60.7</text>
<text x="399" y="330.9" font-family="Liberation Sans, sans-serif" font-size="5.6" text-anchor="middle" fill="#555">0</text>
<text x="409.4" y="330.9" font-family="Liberation Sans, sans-serif" font-size="5.6" text-anchor="middle" fill="#555">10<tspan font-size="3.8" dy="-2">2</tspan></text>
<text x="432.4" y="330.9" font-family="Liberation Sans, sans-serif" font-size="5.6" text-anchor="middle" fill="#555">10<tspan font-size="3.8" dy="-2">3</tspan></text>
<text x="453.9" y="330.9" font-family="Liberation Sans, sans-serif" font-size="5.6" text-anchor="middle" fill="#555">10<tspan font-size="3.8" dy="-2">4</tspan></text>
<text x="475.5" y="330.9" font-family="Liberation Sans, sans-serif" font-size="5.6" text-anchor="middle" fill="#555">10<tspan font-size="3.8" dy="-2">5</tspan></text>
<text transform="translate(438.5,344.9) scale(0.8,1)" font-family="Liberation Sans, sans-serif" font-size="10.2" text-anchor="middle" letter-spacing="1.1" stroke="#1a1a2a" stroke-width="0.25" fill="#1a1a2a">CFSE</text>
<text transform="translate(369.2,276.3) rotate(-90)" font-family="Liberation Sans, sans-serif" font-weight="bold" font-size="9" text-anchor="middle" textLength="85" lengthAdjust="spacingAndGlyphs" fill="#111">Number CD8<tspan font-size="5.5" dy="-3.4">+</tspan><tspan dy="3.4"> Cells</tspan></text>
<text x="349.6" y="219.9" font-family="Liberation Sans, sans-serif" font-size="19.8" stroke="#000" stroke-width="0.6" fill="#000">e</text>
<path d="M562.10,319.00 C568.42,319.00 592.52,319.07 600.00,319.00 C607.48,318.93 605.00,318.85 607.00,318.60 C609.00,318.35 610.57,318.03 612.00,317.50 C613.43,316.97 614.53,315.28 615.60,315.40 C616.67,315.52 617.32,318.50 618.40,318.20 C619.48,317.90 620.97,313.60 622.10,313.60 C623.23,313.60 624.30,318.63 625.20,318.20 C626.10,317.77 626.85,312.88 627.50,311.00 C628.15,309.12 628.60,306.73 629.10,306.90 C629.60,307.07 630.07,310.45 630.50,312.00 C630.93,313.55 631.23,316.87 631.70,316.20 C632.17,315.53 632.78,312.37 633.30,308.00 C633.82,303.63 634.42,298.00 634.80,290.00 C635.18,282.00 635.30,271.13 635.60,260.00 C635.90,248.87 636.25,223.20 636.60,223.20 C636.95,223.20 637.37,248.87 637.70,260.00 C638.03,271.13 638.18,282.50 638.60,290.00 C639.02,297.50 639.72,301.00 640.20,305.00 C640.68,309.00 641.03,311.75 641.50,314.00 C641.97,316.25 642.25,317.67 643.00,318.50 C643.75,319.33 643.50,318.92 646.00,319.00 C648.50,319.08 656.00,319.00 658.00,319.00 L658,319.8 L562.1,319.8 Z" fill="#b3b3b3" stroke="#303030" stroke-width="0.9"/>
<path d="M562.1,319.8V217.5H658V319.8" fill="none" stroke="#7c7c7c" stroke-width="1"/>
<path d="M562.1,319.8H658" fill="none" stroke="#333" stroke-width="1.1"/>
<line x1="559.1" y1="318.8" x2="562.1" y2="318.8" stroke="#555" stroke-width="0.8"/>
<text x="558.1" y="320.41" font-family="Liberation Sans, sans-serif" font-size="4.6" text-anchor="end" fill="#6a6a6a">0</text>
<line x1="559.1" y1="296.2" x2="562.1" y2="296.2" stroke="#555" stroke-width="0.8"/>
<text x="558.1" y="297.81" font-family="Liberation Sans, sans-serif" font-size="4.6" text-anchor="end" fill="#6a6a6a">1000</text>
<line x1="559.1" y1="273.6" x2="562.1" y2="273.6" stroke="#555" stroke-width="0.8"/>
<text x="558.1" y="275.21" font-family="Liberation Sans, sans-serif" font-size="4.6" text-anchor="end" fill="#6a6a6a">2000</text>
<line x1="559.1" y1="251" x2="562.1" y2="251" stroke="#555" stroke-width="0.8"/>
<text x="558.1" y="252.61" font-family="Liberation Sans, sans-serif" font-size="4.6" text-anchor="end" fill="#6a6a6a">3000</text>
<line x1="559.1" y1="228.5" x2="562.1" y2="228.5" stroke="#555" stroke-width="0.8"/>
<text x="558.1" y="230.11" font-family="Liberation Sans, sans-serif" font-size="4.6" text-anchor="end" fill="#6a6a6a">4000</text>
<line x1="560.6" y1="319.80" x2="562.1" y2="319.80" stroke="#444" stroke-width="0.8"/>
<line x1="560.6" y1="314.15" x2="562.1" y2="314.15" stroke="#444" stroke-width="0.8"/>
<line x1="560.6" y1="308.50" x2="562.1" y2="308.50" stroke="#444" stroke-width="0.8"/>
<line x1="560.6" y1="302.85" x2="562.1" y2="302.85" stroke="#444" stroke-width="0.8"/>
<line x1="560.6" y1="297.20" x2="562.1" y2="297.20" stroke="#444" stroke-width="0.8"/>
<line x1="560.6" y1="291.55" x2="562.1" y2="291.55" stroke="#444" stroke-width="0.8"/>
<line x1="560.6" y1="285.90" x2="562.1" y2="285.90" stroke="#444" stroke-width="0.8"/>
<line x1="560.6" y1="280.25" x2="562.1" y2="280.25" stroke="#444" stroke-width="0.8"/>
<line x1="560.6" y1="274.60" x2="562.1" y2="274.60" stroke="#444" stroke-width="0.8"/>
<line x1="560.6" y1="268.95" x2="562.1" y2="268.95" stroke="#444" stroke-width="0.8"/>
<line x1="560.6" y1="263.30" x2="562.1" y2="263.30" stroke="#444" stroke-width="0.8"/>
<line x1="560.6" y1="257.65" x2="562.1" y2="257.65" stroke="#444" stroke-width="0.8"/>
<line x1="560.6" y1="252.00" x2="562.1" y2="252.00" stroke="#444" stroke-width="0.8"/>
<line x1="560.6" y1="246.35" x2="562.1" y2="246.35" stroke="#444" stroke-width="0.8"/>
<line x1="560.6" y1="240.70" x2="562.1" y2="240.70" stroke="#444" stroke-width="0.8"/>
<line x1="560.6" y1="235.05" x2="562.1" y2="235.05" stroke="#444" stroke-width="0.8"/>
<line x1="560.6" y1="229.40" x2="562.1" y2="229.40" stroke="#444" stroke-width="0.8"/>
<line x1="560.6" y1="223.75" x2="562.1" y2="223.75" stroke="#444" stroke-width="0.8"/>
<line x1="564.10" y1="319.8" x2="564.10" y2="321.40000000000003" stroke="#444" stroke-width="0.7"/>
<line x1="566.70" y1="319.8" x2="566.70" y2="321.40000000000003" stroke="#444" stroke-width="0.7"/>
<line x1="569.30" y1="319.8" x2="569.30" y2="321.40000000000003" stroke="#444" stroke-width="0.7"/>
<line x1="571.90" y1="319.8" x2="571.90" y2="321.40000000000003" stroke="#444" stroke-width="0.7"/>
<line x1="574.50" y1="319.8" x2="574.50" y2="321.40000000000003" stroke="#444" stroke-width="0.7"/>
<line x1="577.10" y1="319.8" x2="577.10" y2="321.40000000000003" stroke="#444" stroke-width="0.7"/>
<line x1="579.70" y1="319.8" x2="579.70" y2="321.40000000000003" stroke="#444" stroke-width="0.7"/>
<line x1="582.30" y1="319.8" x2="582.30" y2="321.40000000000003" stroke="#444" stroke-width="0.7"/>
<line x1="584.90" y1="319.8" x2="584.90" y2="321.40000000000003" stroke="#444" stroke-width="0.7"/>
<line x1="587.50" y1="319.8" x2="587.50" y2="321.40000000000003" stroke="#444" stroke-width="0.7"/>
<line x1="590.10" y1="319.8" x2="590.10" y2="321.40000000000003" stroke="#444" stroke-width="0.7"/>
<line x1="592.70" y1="319.8" x2="592.70" y2="321.40000000000003" stroke="#444" stroke-width="0.7"/>
<line x1="595.30" y1="319.8" x2="595.30" y2="321.40000000000003" stroke="#444" stroke-width="0.7"/>
<line x1="597.90" y1="319.8" x2="597.90" y2="321.40000000000003" stroke="#444" stroke-width="0.7"/>
<line x1="600.50" y1="319.8" x2="600.50" y2="321.40000000000003" stroke="#444" stroke-width="0.7"/>
<line x1="603.10" y1="319.8" x2="603.10" y2="321.40000000000003" stroke="#444" stroke-width="0.7"/>
<line x1="605.70" y1="319.8" x2="605.70" y2="321.40000000000003" stroke="#444" stroke-width="0.7"/>
<line x1="608.30" y1="319.8" x2="608.30" y2="321.40000000000003" stroke="#444" stroke-width="0.7"/>
<line x1="610.90" y1="319.8" x2="610.90" y2="321.40000000000003" stroke="#444" stroke-width="0.7"/>
<line x1="613.50" y1="319.8" x2="613.50" y2="321.40000000000003" stroke="#444" stroke-width="0.7"/>
<line x1="616.10" y1="319.8" x2="616.10" y2="321.40000000000003" stroke="#444" stroke-width="0.7"/>
<line x1="618.70" y1="319.8" x2="618.70" y2="321.40000000000003" stroke="#444" stroke-width="0.7"/>
<line x1="621.30" y1="319.8" x2="621.30" y2="321.40000000000003" stroke="#444" stroke-width="0.7"/>
<line x1="623.90" y1="319.8" x2="623.90" y2="321.40000000000003" stroke="#444" stroke-width="0.7"/>
<line x1="626.50" y1="319.8" x2="626.50" y2="321.40000000000003" stroke="#444" stroke-width="0.7"/>
<line x1="629.10" y1="319.8" x2="629.10" y2="321.40000000000003" stroke="#444" stroke-width="0.7"/>
<line x1="631.70" y1="319.8" x2="631.70" y2="321.40000000000003" stroke="#444" stroke-width="0.7"/>
<line x1="634.30" y1="319.8" x2="634.30" y2="321.40000000000003" stroke="#444" stroke-width="0.7"/>
<line x1="636.90" y1="319.8" x2="636.90" y2="321.40000000000003" stroke="#444" stroke-width="0.7"/>
<line x1="639.50" y1="319.8" x2="639.50" y2="321.40000000000003" stroke="#444" stroke-width="0.7"/>
<line x1="642.10" y1="319.8" x2="642.10" y2="321.40000000000003" stroke="#444" stroke-width="0.7"/>
<line x1="644.70" y1="319.8" x2="644.70" y2="321.40000000000003" stroke="#444" stroke-width="0.7"/>
<line x1="647.30" y1="319.8" x2="647.30" y2="321.40000000000003" stroke="#444" stroke-width="0.7"/>
<line x1="649.90" y1="319.8" x2="649.90" y2="321.40000000000003" stroke="#444" stroke-width="0.7"/>
<line x1="652.50" y1="319.8" x2="652.50" y2="321.40000000000003" stroke="#444" stroke-width="0.7"/>
<line x1="655.10" y1="319.8" x2="655.10" y2="321.40000000000003" stroke="#444" stroke-width="0.7"/>
<path d="M571.8,293.8H633.5" stroke="#303030" stroke-width="1.2" fill="none"/>
<path d="M571.8,290.8V296.8M633.5,290.8V296.8" stroke="#222" stroke-width="1.6" fill="none"/>
<text x="602.3" y="291.2" font-family="Liberation Sans, sans-serif" font-size="5.1" text-anchor="middle" fill="#444">20.5</text>
<text x="572.6" y="329.3" font-family="Liberation Sans, sans-serif" font-size="5.6" text-anchor="middle" fill="#555">0</text>
<text x="581.9000000000001" y="329.3" font-family="Liberation Sans, sans-serif" font-size="5.6" text-anchor="middle" fill="#555">10<tspan font-size="3.8" dy="-2">2</tspan></text>
<text x="605.8000000000001" y="329.3" font-family="Liberation Sans, sans-serif" font-size="5.6" text-anchor="middle" fill="#555">10<tspan font-size="3.8" dy="-2">3</tspan></text>
<text x="627.4000000000001" y="329.3" font-family="Liberation Sans, sans-serif" font-size="5.6" text-anchor="middle" fill="#555">10<tspan font-size="3.8" dy="-2">4</tspan></text>
<text x="649.7" y="329.3" font-family="Liberation Sans, sans-serif" font-size="5.6" text-anchor="middle" fill="#555">10<tspan font-size="3.8" dy="-2">5</tspan></text>
<text transform="translate(611.8,344.9) scale(0.8,1)" font-family="Liberation Sans, sans-serif" font-size="10.2" text-anchor="middle" letter-spacing="1.1" stroke="#1a1a2a" stroke-width="0.25" fill="#1a1a2a">CFSE</text>
<text transform="translate(542.5,276.3) rotate(-90)" font-family="Liberation Sans, sans-serif" font-weight="bold" font-size="9" text-anchor="middle" textLength="84.3" lengthAdjust="spacingAndGlyphs" fill="#111">Number CD4<tspan font-size="5.5" dy="-3.4">+</tspan><tspan dy="3.4"> Cells</tspan></text>
<text x="522.9" y="218.4" font-family="Liberation Sans, sans-serif" font-size="20.2" stroke="#000" stroke-width="0.6" fill="#000">f</text></svg>
</body></html>
